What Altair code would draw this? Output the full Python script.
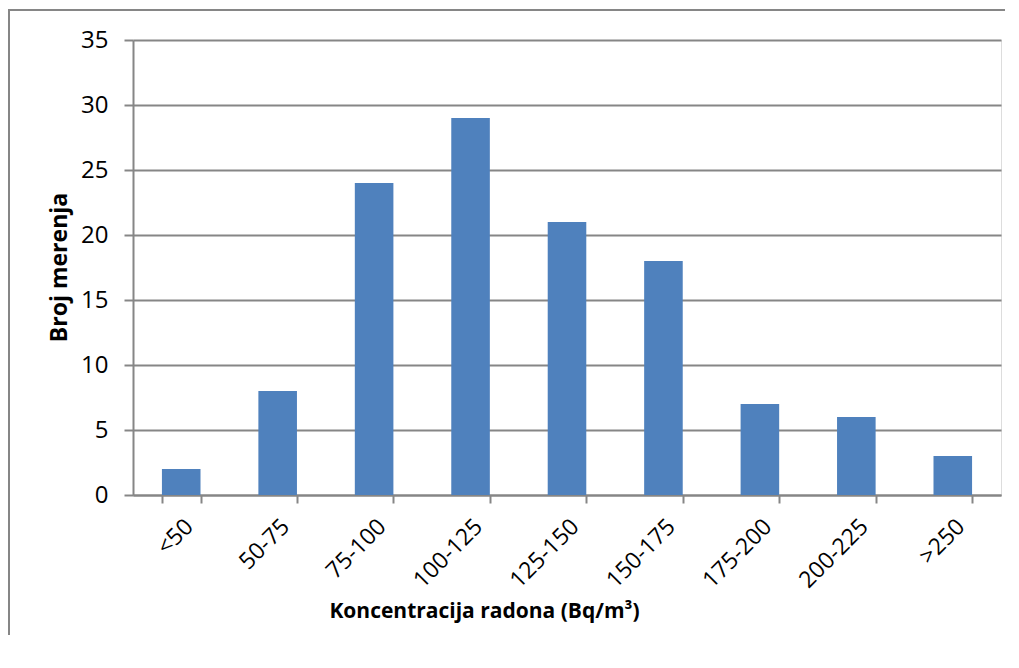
import altair as alt
import pandas as pd

categories = ["<50", "50-75", "75-100", "100-125", "125-150", "150-175", "175-200", "200-225", ">250"]
counts = [2, 8, 24, 29, 21, 18, 7, 6, 3]
y_ticks = [0, 5, 10, 15, 20, 25, 30, 35]

df = pd.DataFrame({"cat": categories, "n": counts})

FONT = "Open Sans"
GRAY = "#868686"

W, H = 868, 455

bars = alt.Chart(df).mark_bar(color="#4F81BD").encode(
    x=alt.X("cat:N", sort=categories,
            scale=alt.Scale(paddingInner=0.6, paddingOuter=0.3),
            axis=alt.Axis(title="Koncentracija radona (Bq/m³)", labelAngle=-45,
                          tickBand="extent", tickSize=8, tickColor=GRAY, tickWidth=2,
                          domainColor=GRAY, domainWidth=2, grid=False,
                          labelFont=FONT, labelFontSize=23, labelColor="#000000",
                          labelPadding=12,
                          titleFont=FONT, titleFontSize=21, titleFontWeight="bold",
                          titleColor="#000000", titleX=351, titleY=122,
                          titleBaseline="alphabetic")),
    y=alt.Y("n:Q", scale=alt.Scale(domain=[0, 35], nice=False),
            axis=alt.Axis(title="Broj merenja", values=y_ticks, tickSize=9,
                          tickColor=GRAY, tickWidth=2, domainColor=GRAY, domainWidth=2,
                          gridColor=GRAY, gridWidth=2,
                          labelFont=FONT, labelFontSize=24, labelColor="#000000",
                          labelPadding=16,
                          titleFont=FONT, titleFontSize=23, titleFontWeight="bold",
                          titleColor="#000000", titleX=-67, titleY=227,
                          titleBaseline="alphabetic")),
)

frame_top = alt.Chart(df).mark_rule(stroke=GRAY, strokeWidth=2).encode(
    x=alt.value(-125), x2=alt.value(W + 40), y=alt.value(-30)
)
frame_left = alt.Chart(df).mark_rule(stroke=GRAY, strokeWidth=2).encode(
    x=alt.value(-124), y=alt.value(-31), y2=alt.value(H + 200)
)

chart = alt.layer(frame_top, frame_left, bars).properties(
    width=W, height=H,
    autosize=alt.AutoSizeParams(type="none"),
    padding={"left": 125, "top": 32, "right": 4, "bottom": 140},
).configure_view(stroke=None).configure(background="white")

chart.save("out.html", embed_options={"renderer": "svg", "actions": False})
